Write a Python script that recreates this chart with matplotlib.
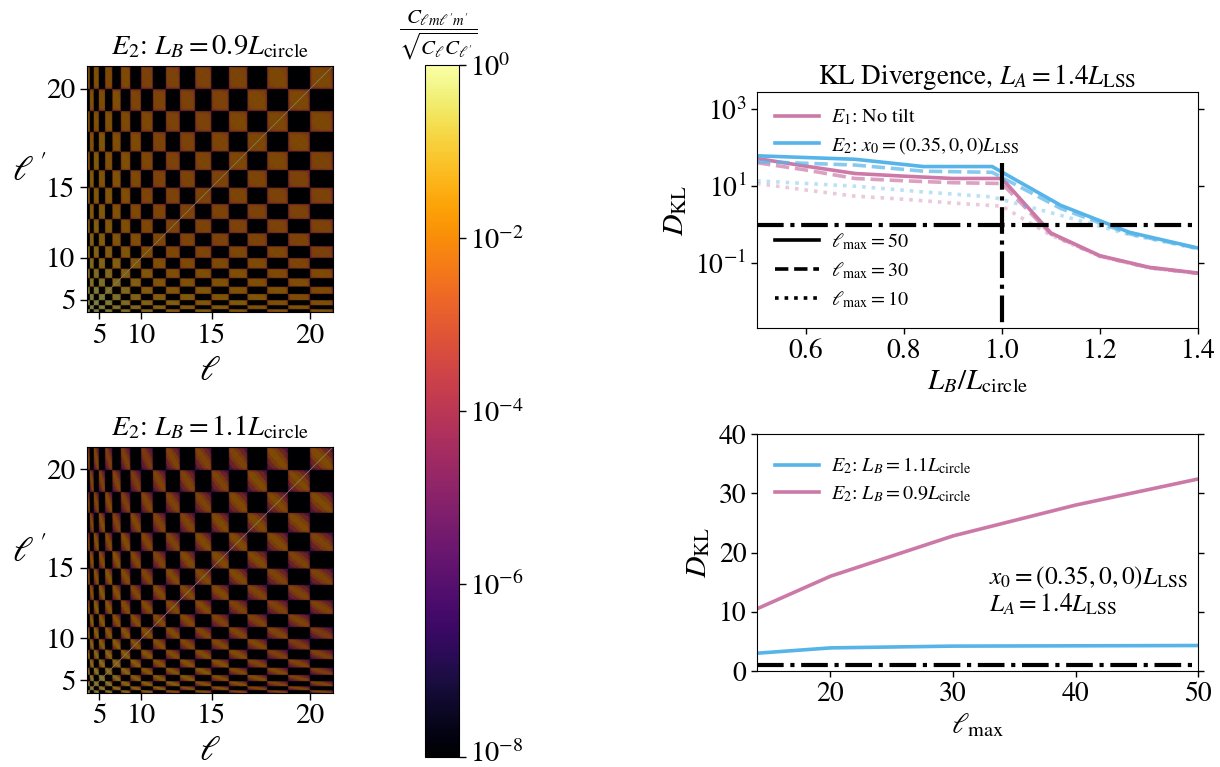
import numpy as np
import matplotlib
matplotlib.use("Agg")
import matplotlib.pyplot as plt
from matplotlib.colors import LogNorm
from matplotlib.transforms import ScaledTranslation

plt.rcParams["font.family"] = "STIXGeneral"
plt.rcParams["mathtext.fontset"] = "stix"

PINK = "#CC79A7"
BLUE = "#56B4E9"

# heatmaps: multipoles and the log10 level of the bright blocks, one per ell
ells = list(range(2, 21))
levels_09 = [-0.1, -0.1, -0.2, -0.4, -0.6, -0.9, -1.2, -1.5, -1.8, -2.0,
             -2.1, -2.1, -2.1, -2.1, -2.0, -2.0, -2.0, -2.0, -2.0]
levels_11 = [-0.1, -0.1, -0.2, -0.4, -0.7, -1.0, -1.3, -1.6, -1.8, -1.9,
             -1.9, -1.9, -1.9, -1.9, -1.9, -1.9, -1.9, -1.9, -1.9]
# drop in log10 with distance from each block's anti-diagonal / from its rim
band_edges = [0.2, 0.42, 0.7]
band_drop_09 = [0.0, 0.0, -0.1, -0.3]
band_drop_11 = [0.0, -0.5, -1.4, -2.4]
rim_edges = [0.04, 0.1]
rim_drop_09 = [-1.4, -0.4, 0.0]
rim_drop_11 = [-1.0, -0.3, 0.0]
# drop in log10 with the distance in ell between the two blocks
sep_edges = [4, 9, 14]
sep_drop_09 = [0.0, -0.1, -0.3, -0.6]
sep_drop_11 = [0.0, -0.2, -0.6, -1.0]
ell_ticks = [5, 10, 15, 20]

# KL divergence vs L_B/L_circle, log10 of D_KL
lb_pink = [0.5, 0.6, 0.7, 0.8, 0.9, 1.0, 1.1, 1.2, 1.3, 1.4]
lb_blue = [0.5, 0.7, 0.84, 0.98, 1.12, 1.26, 1.4]
e1_lmax50 = [1.72, 1.52, 1.33, 1.26, 1.20, 1.20, -0.22, -0.81, -1.11, -1.26]
e1_lmax30 = [1.61, 1.42, 1.20, 1.14, 1.09, 1.07, -0.25, -0.82, -1.12, -1.27]
e1_lmax10 = [1.07, 0.90, 0.74, 0.66, 0.56, 0.48, -0.28, -0.83, -1.13, -1.27]
e2_lmax50 = [1.79, 1.70, 1.51, 1.51, 0.50, -0.20, -0.61]
e2_lmax30 = [1.64, 1.55, 1.39, 1.36, 0.42, -0.24, -0.62]
e2_lmax10 = [1.14, 1.00, 0.85, 0.72, 0.24, -0.26, -0.63]

# KL divergence vs lmax
lmax = [14, 20, 30, 40, 50]
dkl_lb11 = [3.0, 3.9, 4.2, 4.25, 4.3]
dkl_lb09 = [10.5, 16.0, 22.8, 28.0, 32.4]


def px_axes(fig, x0, y0, x1, y1):
    W, H = fig.get_size_inches() * fig.dpi
    return fig.add_axes([x0 / W, 1 - y1 / H, (x1 - x0) / W, (y1 - y0) / H])


def build_matrix(levels, band_drop, rim_drop, sep_drop):
    sizes = [2 * l + 1 for l in ells]
    starts = np.cumsum([0] + sizes)
    mat = np.full((starts[-1], starts[-1]), -8.0)
    for a, la in enumerate(ells):
        ua = (np.arange(sizes[a]) + 0.5) / sizes[a]
        for b, lb in enumerate(ells):
            if (la + lb) % 2:
                continue
            ub = (np.arange(sizes[b]) + 0.5) / sizes[b]
            base = (levels[a] + levels[b]) / 2 + sep_drop[np.digitize(abs(la - lb), sep_edges)]
            dist = np.abs(ua[:, None] + ub[None, :] - 1)
            rim = np.minimum(np.minimum(ua, 1 - ua)[:, None],
                             np.minimum(ub, 1 - ub)[None, :])
            block = base + np.array(band_drop)[np.digitize(dist, band_edges)] \
                + np.array(rim_drop)[np.digitize(rim, rim_edges)]
            # odd m-m' elements vanish
            odd = (np.arange(sizes[a])[:, None] + np.arange(sizes[b])[None, :]) % 2 == 1
            block[odd] = -8.0
            mat[starts[a]:starts[a + 1], starts[b]:starts[b + 1]] = block
    np.fill_diagonal(mat, 0.0)
    return 10.0 ** mat


def draw_matrix(ax, mat, title):
    im = ax.imshow(mat, origin="lower", cmap="inferno",
                   norm=LogNorm(vmin=1e-8, vmax=1), interpolation="hanning",
                   interpolation_stage="rgba")
    pos = [l ** 2 - 4 for l in ell_ticks]
    ax.set_xticks(pos, [str(l) for l in ell_ticks])
    ax.set_yticks(pos, [str(l) for l in ell_ticks])
    ax.tick_params(labelsize=21, length=5, width=1)
    ax.set_xlabel(r"$\ell$", fontsize=25, labelpad=5)
    ax.set_ylabel(r"$\ell^{\,\prime}$", fontsize=25, rotation=0, labelpad=12)
    ax.set_title(title, fontsize=20.5, pad=8)
    return im


fig = plt.figure(figsize=(12.2, 7.67), dpi=100)

ax1 = px_axes(fig, 87, 66, 333, 312)
ax2 = px_axes(fig, 87, 446, 333, 693)
im = draw_matrix(ax1, build_matrix(levels_09, band_drop_09, rim_drop_09, sep_drop_09),
                 r"$E_2$: $L_B=0.9L_{\rm circle}$")
draw_matrix(ax2, build_matrix(levels_11, band_drop_11, rim_drop_11, sep_drop_11),
            r"$E_2$: $L_B=1.1L_{\rm circle}$")

cax = px_axes(fig, 425, 65, 459, 757)
cbar = fig.colorbar(im, cax=cax)
cbar.set_ticks([1, 1e-2, 1e-4, 1e-6, 1e-8])
cbar.minorticks_off()
cax.tick_params(labelsize=20.5, length=5, width=1, pad=3)
fig.canvas.draw()
lowest = min(cax.get_yticklabels(), key=lambda t: t.get_position()[1])
lowest.set_transform(lowest.get_transform() + ScaledTranslation(0, 6 / 100, fig.dpi_scale_trans))
fig.text(438 / 1220, 1 - 35 / 767,
         r"$\dfrac{C_{\ell m\ell^{\prime} m^{\prime}}}{\sqrt{C_\ell C_{\ell^{\prime}}}}$",
         fontsize=15, ha="center", va="center")

# top right
ax3 = px_axes(fig, 757, 92, 1198, 328)
styles = [("-", 1.0), ("--", 0.7), (":", 0.4)]
e1_series = [e1_lmax50, e1_lmax30, e1_lmax10]
e2_series = [e2_lmax50, e2_lmax30, e2_lmax10]
for vals, (ls, alpha) in zip(e1_series, styles):
    ax3.plot(lb_pink, 10.0 ** np.array(vals), color=PINK, ls=ls, alpha=alpha, lw=2.6)
for vals, (ls, alpha) in zip(e2_series, styles):
    ax3.plot(lb_blue, 10.0 ** np.array(vals), color=BLUE, ls=ls, alpha=alpha, lw=2.6)
ax3.axhline(1, color="k", ls="-.", lw=3)
ax3.plot([1.0, 1.0], [40, 10 ** -2.69], color="k", ls="-.", lw=3)
ax3.set_yscale("log")
ax3.set_xlim(0.5, 1.4)
ax3.set_ylim(10 ** -2.69, 10 ** 3.45)
ax3.set_xticks([0.6, 0.8, 1.0, 1.2, 1.4])
ax3.set_yticks([1e3, 1e1, 1e-1])
ax3.minorticks_off()
ax3.tick_params(labelsize=20, length=4, width=1, right=True)
ax3.set_xlabel(r"$L_B/L_{\rm circle}$", fontsize=21, labelpad=3)
ax3.set_ylabel(r"$D_{\rm KL}$", fontsize=21.5, labelpad=4)
ax3.set_title(r"KL Divergence, $L_A=1.4L_{\rm LSS}$", fontsize=19.5, pad=5)

h1, = ax3.plot([], [], color=PINK, lw=2.6, label=r"$E_1$: No tilt")
h2, = ax3.plot([], [], color=BLUE, lw=2.6, label=r"$E_2$: $x_0=(0.35,0,0)L_{\rm LSS}$")
leg1 = ax3.legend(handles=[h1, h2], loc="upper left", frameon=False, fontsize=14.5,
                  bbox_to_anchor=(0.0, 1.015), handlelength=2.2, handletextpad=0.55,
                  labelspacing=0.38)
ax3.add_artist(leg1)
k1, = ax3.plot([], [], color="k", ls="-", lw=2.6, label=r"$\ell_{\rm max}=50$")
k2, = ax3.plot([], [], color="k", ls="--", lw=2.6, label=r"$\ell_{\rm max}=30$")
k3, = ax3.plot([], [], color="k", ls=":", lw=2.6, label=r"$\ell_{\rm max}=10$")
ax3.legend(handles=[k1, k2, k3], loc="lower left", frameon=False, fontsize=14.5,
           bbox_to_anchor=(0.0, 0.0), handlelength=2.2, handletextpad=0.55,
           labelspacing=0.42)

# bottom right
ax4 = px_axes(fig, 757, 434, 1198, 671)
ax4.plot(lmax, dkl_lb11, color=BLUE, lw=2.6, label=r"$E_2$: $L_B=1.1L_{\rm circle}$")
ax4.plot(lmax, dkl_lb09, color=PINK, lw=2.6, label=r"$E_2$: $L_B=0.9L_{\rm circle}$")
ax4.axhline(1, color="k", ls="-.", lw=3)
ax4.set_xlim(14, 50)
ax4.set_ylim(0, 40)
ax4.set_xticks([20, 30, 40, 50])
ax4.set_yticks([0, 10, 20, 30, 40])
ax4.tick_params(labelsize=20, length=4, width=1, right=True)
ax4.set_xlabel(r"$\ell_{\rm max}$", fontsize=21, labelpad=3)
ax4.set_ylabel(r"$D_{\rm KL}$", fontsize=21.5, labelpad=4)
ax4.legend(loc="upper left", frameon=False, fontsize=14.5, bbox_to_anchor=(0.0, 0.985),
           handlelength=2.2, handletextpad=0.55, labelspacing=0.38)
ax4.text(0.525, 0.395, r"$x_0=(0.35,0,0)L_{\rm LSS}$", transform=ax4.transAxes,
         fontsize=18.3, va="center")
ax4.text(0.525, 0.28, r"$L_A=1.4L_{\rm LSS}$", transform=ax4.transAxes,
         fontsize=18.3, va="center")

fig.savefig("out.png", dpi=100)
